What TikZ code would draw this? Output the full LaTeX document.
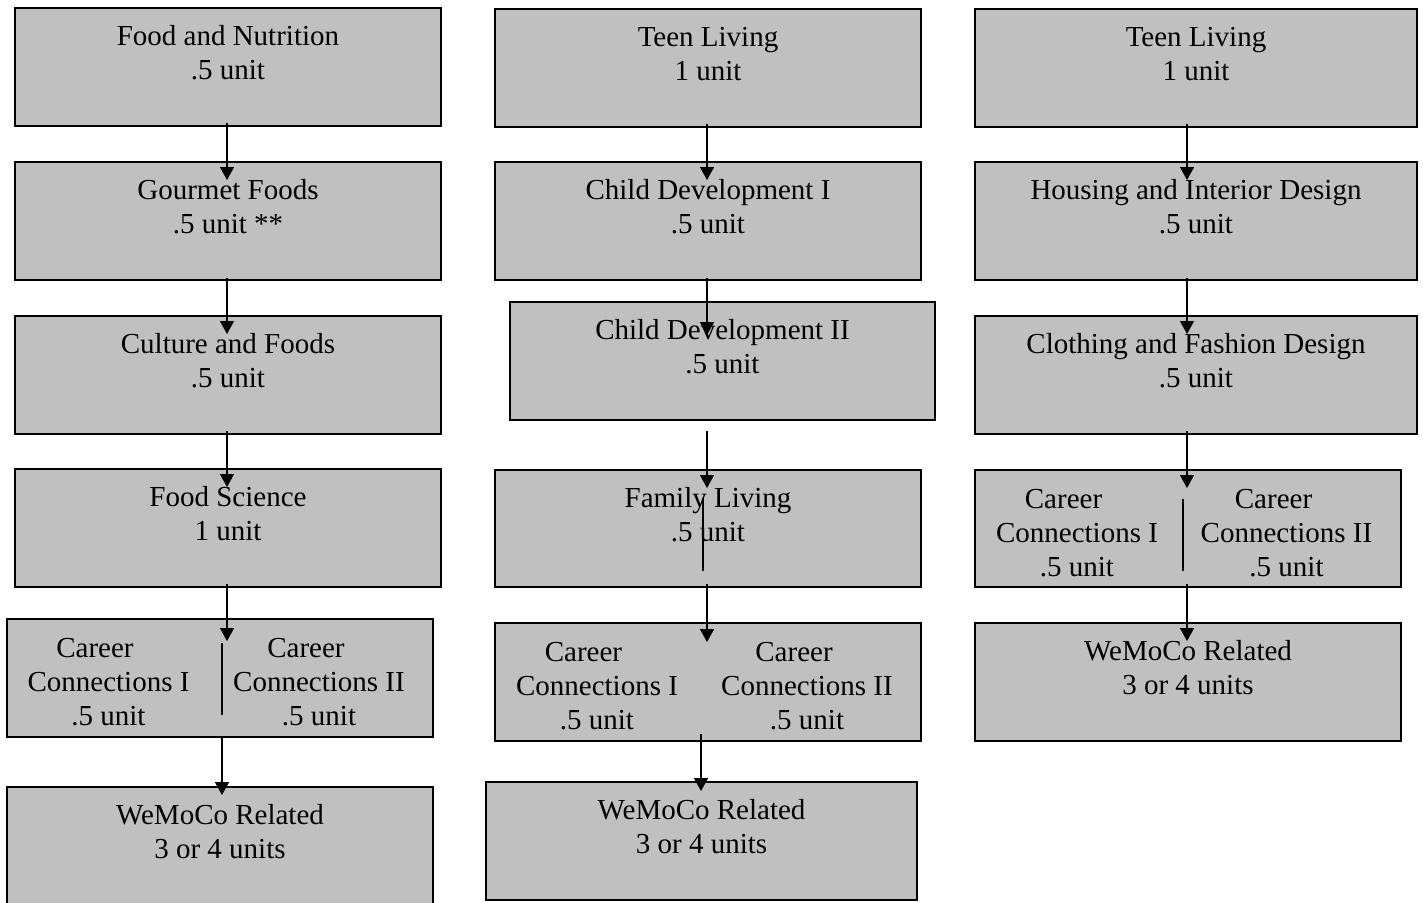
\documentclass[tikz,border=0pt]{standalone}
\usepackage{fontspec}
\setmainfont{Liberation Serif}
\usetikzlibrary{arrows.meta}
\definecolor{boxgray}{HTML}{C0C0C0}
% course text, top aligned inside a box of fixed size
\newcommand{\ctext}[3]{\parbox[c][#2][t]{#1}{\centering\rule{0pt}{18.5pt}#3}}
\begin{document}
\begin{tikzpicture}[x=0.5pt,y=-0.5pt,
  every node/.style={font=\fontsize{14.5pt}{17pt}\selectfont},
  box/.style={draw=black,line width=1pt,fill=boxgray,inner sep=0pt,outer sep=0pt,anchor=north west},
  half/.style={inner sep=0pt,anchor=north,align=center},
  link/.style={line width=0.7pt,-{Triangle[length=6.5pt,width=7pt]}},
  divider/.style={line width=0.7pt}]
\useasboundingbox (0,0) rectangle (1423,902);

% ---- column 1: food track
\node[box] (A1) at (15,8)   {\ctext{213pt}{59pt}{Food and Nutrition\\.5 unit}};
\node[box] (A2) at (15,162) {\ctext{213pt}{59pt}{Gourmet Foods\\.5 unit **}};
\node[box] (A3) at (15,316) {\ctext{213pt}{59pt}{Culture and Foods\\.5 unit}};
\node[box] (A4) at (15,469) {\ctext{213pt}{59pt}{Food Science\\1 unit}};
\node[box,minimum width=213pt,minimum height=59pt] (A5) at (7,619) {};
\node[half] (A5l) at ([shift={(101.5,0)}]A5.north west) {\rule{0pt}{19pt}Career\kern13.5pt\\Connections I\\.5 unit};
\node[half] (A5r) at ([shift={(312,0)}]A5.north west) {\rule{0pt}{19pt}Career\kern13pt\\Connections II\\.5 unit};
\node[box] (A6) at (7,787)  {\ctext{213pt}{59pt}{WeMoCo Related\\3 or 4 units}};

% ---- column 2: family track
\node[box] (B1) at (495,9)   {\ctext{213pt}{59pt}{Teen Living\\1 unit}};
\node[box] (B2) at (495,162) {\ctext{213pt}{59pt}{Child Development I\\.5 unit}};
\node[box] (B3) at (510,302) {\ctext{212.5pt}{59pt}{Child Development II\\.5 unit}};
\node[box] (B4) at (495,470) {\ctext{213pt}{58.5pt}{Family Living\\.5 unit}};
\node[box,minimum width=213pt,minimum height=59pt] (B5) at (495,623) {};
\node[half] (B5l) at ([shift={(102,0)}]B5.north west) {\rule{0pt}{19pt}Career\kern13.5pt\\Connections I\\.5 unit};
\node[half] (B5r) at ([shift={(312,0)}]B5.north west) {\rule{0pt}{19pt}Career\kern13pt\\Connections II\\.5 unit};
\node[box] (B6) at (486,782) {\ctext{215.5pt}{59pt}{WeMoCo Related\\3 or 4 units}};

% ---- column 3: housing and clothing track
\node[box] (C1) at (975,9)   {\ctext{221pt}{59pt}{Teen Living\\1 unit}};
\node[box] (C2) at (975,162) {\ctext{221pt}{59pt}{Housing and Interior Design\\.5 unit}};
\node[box] (C3) at (975,316) {\ctext{221pt}{59pt}{Clothing and Fashion Design\\.5 unit}};
\node[box,minimum width=213pt,minimum height=58.5pt] (C4) at (975,470) {};
\node[half] (C4l) at ([shift={(102,0)}]C4.north west) {\rule{0pt}{19pt}Career\kern13.5pt\\Connections I\\.5 unit};
\node[half] (C4r) at ([shift={(311.5,0)}]C4.north west) {\rule{0pt}{19pt}Career\kern13pt\\Connections II\\.5 unit};
\node[box] (C5) at (975,623) {\ctext{213pt}{59pt}{WeMoCo Related\\3 or 4 units}};

% ---- connectors, column 1
\draw[link] ([shift={(-1,-3)}]A1.south) -- ([shift={(-1,18)}]A2.north);
\draw[link] ([shift={(-1,-2)}]A2.south) -- ([shift={(-1,18)}]A3.north);
\draw[link] ([shift={(-1,-3)}]A3.south) -- ([shift={(-1,18)}]A4.north);
\draw[link] ([shift={(-1,-3)}]A4.south) -- ([shift={(7,22)}]A5.north);
\draw[divider] ([shift={(2,24)}]A5.north) -- ([shift={(2,-22)}]A5.south);
\draw[link] ([shift={(2,0)}]A5.south) -- ([shift={(2,8)}]A6.north);

% ---- connectors, column 2
\draw[link] ([shift={(-1,-3)}]B1.south) -- ([shift={(-1,18)}]B2.north);
\draw[link] ([shift={(-1,-2)}]B2.south) -- ([shift={(-15.5,33)}]B3.north);
\draw[link] ([shift={(-15.5,11)}]B3.south) -- ([shift={(-1,18)}]B4.north);
\draw[divider] ([shift={(-5,28)}]B4.north) -- ([shift={(-5,-16)}]B4.south);
\draw[link] ([shift={(-1,-3)}]B4.south) -- ([shift={(-1,19)}]B5.north);
\draw[link] ([shift={(-7,-7)}]B5.south) -- ([shift={(-0.5,9)}]B6.north);

% ---- connectors, column 3
\draw[link] ([shift={(-9,-3)}]C1.south) -- ([shift={(-9,18)}]C2.north);
\draw[link] ([shift={(-9,-2)}]C2.south) -- ([shift={(-9,18)}]C3.north);
\draw[link] ([shift={(-9,-3)}]C3.south) -- ([shift={(-1,18)}]C4.north);
\draw[divider] ([shift={(-5,29)}]C4.north) -- ([shift={(-5,-16)}]C4.south);
\draw[link] ([shift={(-1,-3)}]C4.south) -- ([shift={(-1,18)}]C5.north);
\end{tikzpicture}
\end{document}
